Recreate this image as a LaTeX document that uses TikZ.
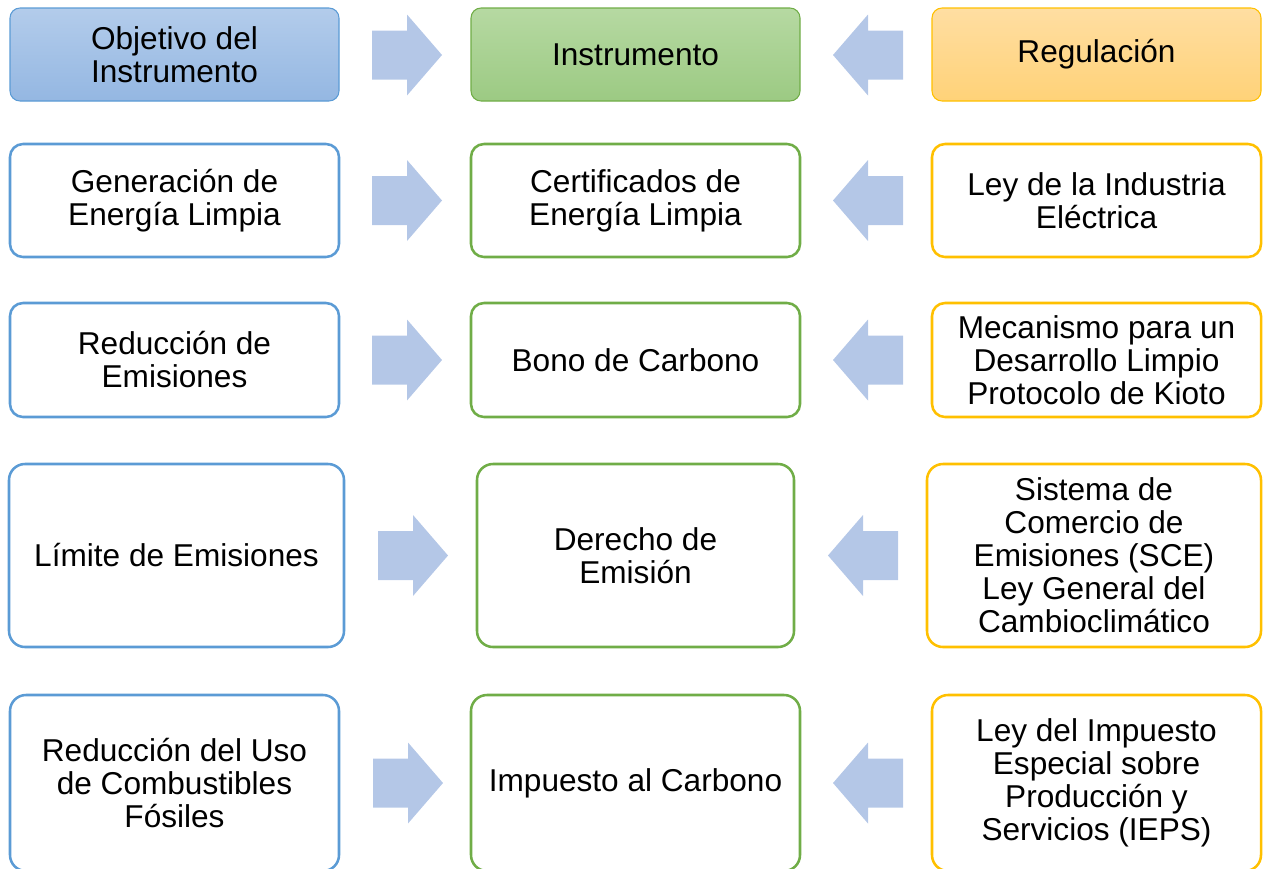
\documentclass[tikz,border=0pt]{standalone}
\usepackage{fontspec}
\setmainfont{Liberation Sans}
\usetikzlibrary{calc}
\definecolor{bdblue}{HTML}{5B9BD5}
\definecolor{bdgreen}{HTML}{70AD47}
\definecolor{bdorange}{HTML}{FFC000}
\definecolor{bluetop}{HTML}{B3CCEB}
\definecolor{bluebot}{HTML}{94B7E2}
\definecolor{greentop}{HTML}{B6D9A2}
\definecolor{greenbot}{HTML}{9CCA83}
\definecolor{orangetop}{HTML}{FFDEA2}
\definecolor{orangebot}{HTML}{FFD278}
\definecolor{arrfill}{HTML}{B4C7E7}
\begin{document}
\begin{tikzpicture}[x=0.75pt,y=-0.75pt,
  sz/.style 2 args={minimum width=#1*0.75pt,minimum height=#2*0.75pt},
  cell/.style={draw=#1, line width=1.9pt, fill=white, rounded corners=9.75pt,
    inner sep=0pt, align=center, text=black,
    font=\fontsize{23.7}{24.75}\selectfont},
  tallcell/.style={cell=#1, rounded corners=12pt},
  hdr/.style 2 args={draw=#1, line width=0.8pt, rounded corners=7.5pt,
    top color=#2top, bottom color=#2bot, middle color=#2top!50!#2bot,
    inner sep=0pt, align=center, text=black,
    font=\fontsize{23.7}{24.75}\selectfont},
  rarr/.pic={\fill[arrfill] (-35,-24.5) -- (0,-24.5) -- (0,-40.5) -- (35,0)
     -- (0,40.5) -- (0,24.5) -- (-35,24.5) -- cycle;},
  larr/.pic={\fill[arrfill] (35,-24.5) -- (0,-24.5) -- (0,-40.5) -- (-35,0)
     -- (0,40.5) -- (0,24.5) -- (35,24.5) -- cycle;}
]
\useasboundingbox (0,0) rectangle (1263,868);
\clip (0,0) rectangle (1263,868);

% Row 0 (headers)
\node[hdr={bdblue}{blue}, sz={329}{93}] (l0) at (174.5,54.5) {Objetivo del\\Instrumento};
\node[hdr={bdgreen}{green}, sz={329}{93}] (m0) at (635.5,54.5) {Instrumento};
\node[hdr={bdorange}{orange}, sz={329}{93}] (r0) at (1096.5,54.5) {Regulación};

% Row 1
\node[cell=bdblue, sz={329}{113}] (l1) at (174.5,200.5) {Generación de\\Energía Limpia};
\node[cell=bdgreen, sz={329}{113}] (m1) at (635.5,200.5) {Certificados de\\Energía Limpia};
\node[cell=bdorange, sz={329}{113}] (r1) at (1096.5,200.5) {Ley de la Industria\\Eléctrica};

% Row 2
\node[cell=bdblue, sz={329}{114}] (l2) at (174.5,360) {Reducción de\\Emisiones};
\node[cell=bdgreen, sz={329}{114}] (m2) at (635.5,360) {Bono de Carbono};
\node[cell=bdorange, sz={329}{114}] (r2) at (1096.5,360) {Mecanismo para un\\Desarrollo Limpio\\Protocolo de Kioto};

% Row 3
\node[tallcell=bdblue, sz={335}{183}] (l3) at (176.5,555.5) {Límite de Emisiones};
\node[tallcell=bdgreen, sz={317}{183}] (m3) at (635.5,555.5) {Derecho de\\Emisión};
\node[tallcell=bdorange, sz={334}{183}] (r3) at (1094,555.5) {Sistema de\\Comercio de\\Emisiones (SCE)\\Ley General del\\Cambioclimático};

% Row 4
\node[tallcell=bdblue, sz={329}{176}] (l4) at (174.5,783) {Reducción del Uso\\de Combustibles\\Fósiles};
\node[tallcell=bdgreen, sz={329}{176}] (m4) at (635.5,783) {Impuesto al Carbono};
\node[tallcell=bdorange, sz={329}{176}] (r4) at (1096.5,783) {Ley del Impuesto\\Especial sobre\\Producción y\\Servicios (IEPS)};

% Block arrows
\pic at ($(l0.east)!0.5!(m0.west)+(2,0.5)$) {rarr};
\pic at ($(r0.west)!0.5!(m0.east)+(2,0.5)$) {larr};
\pic at ($(l1.east)!0.5!(m1.west)+(2,0)$) {rarr};
\pic at ($(r1.west)!0.5!(m1.east)+(2,0)$) {larr};
\pic at ($(l2.east)!0.5!(m2.west)+(2,0)$) {rarr};
\pic at ($(r2.west)!0.5!(m2.east)+(2,0)$) {larr};
\pic at ($(l3.east)!0.5!(m3.west)+(2.5,0)$) {rarr};
\pic at ($(r3.west)!0.5!(m3.east)+(2.5,0)$) {larr};
\pic at ($(l4.east)!0.5!(m4.west)+(3,0)$) {rarr};
\pic at ($(r4.west)!0.5!(m4.east)+(2,0)$) {larr};
\end{tikzpicture}
\end{document}
